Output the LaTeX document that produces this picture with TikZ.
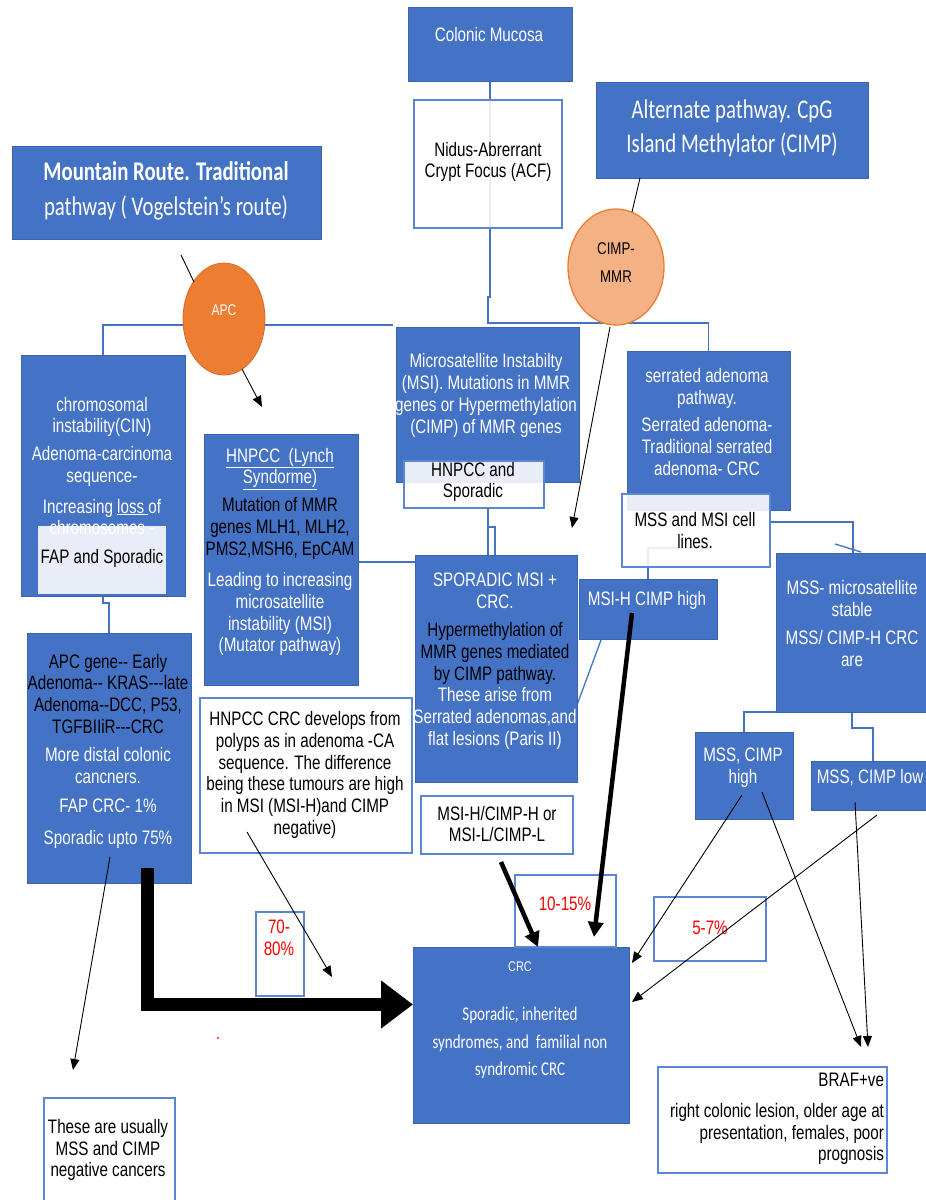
\documentclass[tikz,border=0pt]{standalone}
\usepackage{fontspec}
\usetikzlibrary{arrows.meta,shapes.geometric}
\newfontfamily\af[FakeStretch=0.78,Ligatures=TeXOff]{Liberation Sans}
\newfontfamily\cf[FakeStretch=0.77]{Carlito}
\definecolor{bl}{HTML}{4472C4}
\definecolor{bld}{HTML}{3B64B0}
\definecolor{lbd}{HTML}{5A87D2}
\definecolor{org}{HTML}{ED7D31}
\definecolor{orgd}{HTML}{D9692A}
\definecolor{peach}{HTML}{F4B183}
\pgfdeclarelayer{bg}
\pgfsetlayers{bg,main}
\begin{document}
\begin{tikzpicture}[x=1pt,y=-1pt,
  bbox/.style={rectangle,draw=bld,line width=0.7pt,fill=bl,inner sep=0pt,outer sep=0pt},
  wbox/.style={rectangle,draw=lbd,line width=1.1pt,fill=white,fill opacity=0.88,inner sep=0pt,outer sep=0pt},
  wt/.style={inner sep=0pt,outer sep=0pt,align=center,text=white,font=\af\fontsize{19.5}{21.7}\selectfont},
  kt/.style={wt,text=black},
  rt/.style={wt,text=red},
  ttl/.style={inner sep=0pt,outer sep=0pt,align=center,text=white,font=\cf\fontsize{27}{34}\selectfont},
  con/.style={draw=bl,line width=1.3pt},
  lin/.style={draw=black,line width=0.9pt},
  thinarr/.style={lin,-{Triangle[length=11pt,width=9pt]}},
  medarr/.style={draw=black,line width=4.5pt,-{Triangle[length=15pt,width=15pt]}},
  bigarr/.style={draw=black,line width=13pt,line join=miter,-{Triangle[length=32pt,width=46pt]}}
]
\useasboundingbox (0,0) rectangle (926,1200);

% ---------- blue boxes and their texts ----------
\node[bbox,minimum width=164pt,minimum height=74pt] (colonic) at (490,44) {};
\node[wt] (colonicT) at (489,35) {Colonic Mucosa};

\node[bbox,minimum width=272pt,minimum height=96pt] (alt) at (732,130) {};
\node[ttl] (altT) at (732,128.5) {Alternate pathway. CpG\\Island Methylator (CIMP)};

\node[bbox,minimum width=309pt,minimum height=93pt] (mount) at (166.5,192.5) {};
\node[ttl,font=\cf\fontsize{27}{35}\selectfont] (mountT) at (166,190.5) {\textbf{Mountain Route. Traditional}\\pathway ( Vogelstein’s route)};

\node[bbox,minimum width=164pt,minimum height=241pt] (cin) at (103,475.5) {};
\node[wt] (cinT) at (102,466) {chromosomal\\instability(CIN)\\[6pt]Adenoma-carcinoma\\sequence-\\[9pt]Increasing \underline{loss\ }of\\chromosomes -};

\node[bbox,minimum width=154pt,minimum height=251pt] (lynch) at (281,559.5) {};
\node[wt] (lynchT) at (280,552) {\underline{HNPCC\ \ (Lynch}\\\underline{Syndorme)}\\[6pt]\textcolor{black}{Mutation of MMR}\\\textcolor{black}{genes MLH1, MLH2,}\\\textcolor{black}{PMS2,MSH6, EpCAM}\\[10pt]Leading to increasing\\microsatellite\\instability (MSI)\\(Mutator pathway)};

\node[bbox,minimum width=183pt,minimum height=155pt] (msi) at (487.5,404.5) {};
\node[wt] (msiT) at (486,395.5) {Microsatellite Instabilty\\(MSI). Mutations in MMR\\genes or Hypermethylation\\(CIMP) of MMR genes};

\node[bbox,minimum width=163pt,minimum height=159pt] (serr) at (708.5,430.5) {};
\node[wt] (serrT) at (707,422) {serrated adenoma\\pathway.\\[6pt]Serrated adenoma-\\Traditional serrated\\adenoma- CRC};

\node[bbox,minimum width=138pt,minimum height=60pt] (msih) at (648,609) {};
\node[wt] (msihT) at (647,600) {MSI-H CIMP high};

\node[bbox,minimum width=152pt,minimum height=159pt] (mss) at (852,632.5) {};
\node[wt] (mssT) at (852,623.5) {MSS- microsatellite\\stable\\[7pt]MSS/ CIMP-H CRC\\are};

\node[bbox,minimum width=162pt,minimum height=227pt] (spor) at (496,668.5) {};
\node[wt] (sporT) at (495,661) {SPORADIC MSI +\\CRC.\\[7pt]\textcolor{black}{Hypermethylation of}\\\textcolor{black}{MMR genes mediated}\\\textcolor{black}{by CIMP pathway.}\\These arise from\\Serrated adenomas,and\\flat lesions (Paris II)};

\node[bbox,minimum width=164pt,minimum height=250pt] (apcg) at (109,758) {};
\node[wt] (apcgT) at (108,751) {\textcolor{black}{APC gene-- Early}\\\textcolor{black}{Adenoma-- KRAS---late}\\\textcolor{black}{Adenoma--DCC, P53,}\\\textcolor{black}{TGFBIIiR---CRC}\\[7pt]More distal colonic\\cancners.\\[7pt]FAP CRC- 1\%\\[10pt]Sporadic upto 75\%};

\node[bbox,minimum width=98pt,minimum height=87pt] (mssh) at (744,775.5) {};
\node[wt] (msshT) at (743,768) {MSS, CIMP\\high};

\node[bbox,minimum width=117pt,minimum height=49pt] (mssl) at (869.5,785.5) {};
\node[wt] (msslT) at (870,778) {MSS, CIMP low};

\node[bbox,minimum width=216pt,minimum height=176pt] (crc) at (521,1035) {};
\node[wt,font=\af\fontsize{14}{16}\selectfont] (crcT1) at (520,967) {CRC};
\node[wt,font=\cf\fontsize{19.5}{27.5}\selectfont] (crcT2) at (520,1043) {Sporadic, inherited\\syndromes, and\ \ familial non\\syndromic CRC};

% ---------- circles ----------
\node[ellipse,fill=org,draw=orgd,line width=0.8pt,minimum width=82pt,minimum height=112pt,inner sep=0pt] (apc) at (224,319) {};
\node[wt,font=\af\fontsize{15.5}{18}\selectfont] (apcT) at (224,310) {APC};
\node[ellipse,fill=peach,draw=org,line width=1.3pt,minimum width=96pt,minimum height=116pt,inner sep=0pt] (cimp) at (616,267) {};
\node[kt,font=\af\fontsize{17}{28}\selectfont] (cimpT) at (616,263) {CIMP-\\MMR};

% ---------- white boxes and their texts ----------
\node[wbox,minimum width=148pt,minimum height=128pt] (nidus) at (488,164) {};
\node[kt] (nidusT) at (488,162) {Nidus-Abrerrant\\Crypt Focus (ACF)};

\node[wbox,draw=none,minimum width=128pt,minimum height=68pt] (fap) at (102,560) {};
\node[kt] (fapT) at (102,558) {FAP and Sporadic};

\node[wbox,minimum width=140pt,minimum height=47pt] (hs) at (474,484.5) {};
\node[kt] (hsT) at (473,482) {HNPCC and\\Sporadic};

\node[wbox,minimum width=148pt,minimum height=73pt] (cells) at (696,530.5) {};
\node[kt] (cellsT) at (695,530.5) {MSS and MSI cell\\lines.};

\node[wbox,minimum width=212pt,minimum height=155pt] (hcrc) at (306,775.5) {};
\node[kt] (hcrcT) at (305,775) {HNPCC CRC develops from\\polyps as in adenoma -CA\\sequence. The difference\\being these tumours are high\\in MSI (MSI-H)and CIMP\\negative)};

\node[wbox,minimum width=48pt,minimum height=84pt] (p7080) at (280,954) {};
\node[rt] (p7080T) at (279,938) {70-\\80\%};

\node[wbox,minimum width=152pt,minimum height=58pt] (msihl) at (497,825) {};
\node[kt] (msihlT) at (497,824) {MSI-H/CIMP-H or\\MSI-L/CIMP-L};

\node[wbox,minimum width=101pt,minimum height=72pt] (p1015) at (565.5,911) {};
\node[rt] (p1015T) at (565,904) {10-15\%};

\node[wbox,minimum width=112pt,minimum height=64pt] (p57) at (710,929) {};
\node[rt] (p57T) at (710,928) {5-7\%};

\node[wbox,minimum width=229pt,minimum height=106pt] (braf) at (772.5,1120) {};
\node[kt,align=right,anchor=east] (brafT) at (884,1119) {BRAF+ve\\[9pt]right colonic lesion, older age at\\presentation, females, poor\\prognosis};

\node[wbox,minimum width=131pt,minimum height=110pt] (these) at (109.5,1153) {};
\node[kt] (theseT) at (108,1150) {These are usually\\MSS and CIMP\\negative cancers};

% ---------- coordinates ----------
\coordinate (c1) at (490,297); \coordinate (c2) at (488,297);
\coordinate (c3) at (488,323); \coordinate (c4) at (708.5,323);
\coordinate (c5) at (393,325); \coordinate (c6) at (103,325);
\coordinate (j1) at (103,603); \coordinate (j2) at (109,603);
\coordinate (k0) at (0,562);
\coordinate (k1) at (488,508); \coordinate (k3) at (488,527); \coordinate (k4) at (495,527);
\coordinate (m1) at (853,522);
\coordinate (q1) at (835,544); \coordinate (q2) at (861,552);
\coordinate (f1) at (710,548); \coordinate (f2) at (648,548);
\coordinate (g1) at (601,640); \coordinate (g2) at (577,705);
\coordinate (r1) at (852,728); \coordinate (r2) at (873,728);

\coordinate (t1) at (181,255); \coordinate (t2) at (194,282);
\coordinate (a1) at (242,369); \coordinate (a2) at (262,407);
\coordinate (u1) at (640,178); \coordinate (u2) at (632,212);
\coordinate (v1) at (610,327); \coordinate (v2) at (572,528);
\coordinate (w1) at (247,832); \coordinate (w2) at (332,977);
\coordinate (s1) at (110,857); \coordinate (s2) at (73,1070);
\coordinate (b1) at (147,868); \coordinate (b2) at (147,1004.5);
\coordinate (d1) at (501,862); \coordinate (d2) at (538,947);
\coordinate (e1) at (632,613); \coordinate (e2) at (594,937);
\coordinate (h1) at (742,795); \coordinate (h2) at (632,963);
\coordinate (h3) at (762,792); \coordinate (h4) at (861,1047);
\coordinate (l1) at (877,815); \coordinate (l2) at (632,1002);
\coordinate (l3) at (855,802); \coordinate (l4) at (868,1047);

% ---------- blue tree connectors (behind) ----------
\begin{pgfonlayer}{bg}
\draw[con] (colonic.south) -- (c1) -- (c2) -- (c3) -- (c4) -- (serr.north);
\draw[con] (c5) -- (c6) -- (cin.north);
\draw[con] (cin.south) -- (j1) -- (j2) -- (apcg.north);
\draw[con] (lynch.east |- k0) -- (spor.west |- k0);
\draw[con] (k1) -- (k1 |- spor.north);
\draw[con] (k3) -- (k4) -- (k4 |- spor.north);
\draw[con] (cells.east |- m1) -- (m1) -- (m1 |- mss.north);
\draw[con] (q1) -- (q2);
\draw[con] (f1) -- (f2) -- (msih.north -| f2);
\draw[con] (g1) -- (g2);
\draw[con] (mss.south west) -- (mss.south west -| mssh.north) -- (mssh.north);
\draw[con] (mss.south) -- (r1) -- (r2) -- (r2 |- mssl.north);
\end{pgfonlayer}

% ---------- black lines and arrows ----------
\draw[lin] (t1) -- (t2);
\draw[thinarr] (a1) -- (a2);
\draw[lin] (u1) -- (u2);
\draw[thinarr] (v1) -- (v2);
\draw[thinarr] (w1) -- (w2);
\draw[thinarr] (s1) -- (s2);
\draw[bigarr] (b1) -- (b2) -- (b2 -| crc.west);
\draw[medarr] (d1) -- (d2);
\draw[medarr] (e1) -- (e2);
\draw[thinarr] (h1) -- (h2);
\draw[thinarr] (h3) -- (h4);
\draw[thinarr] (l1) -- (l2);
\draw[thinarr] (l3) -- (l4);

\fill[red!70] (218,1038) circle[radius=1.3pt];
\end{tikzpicture}
\end{document}
